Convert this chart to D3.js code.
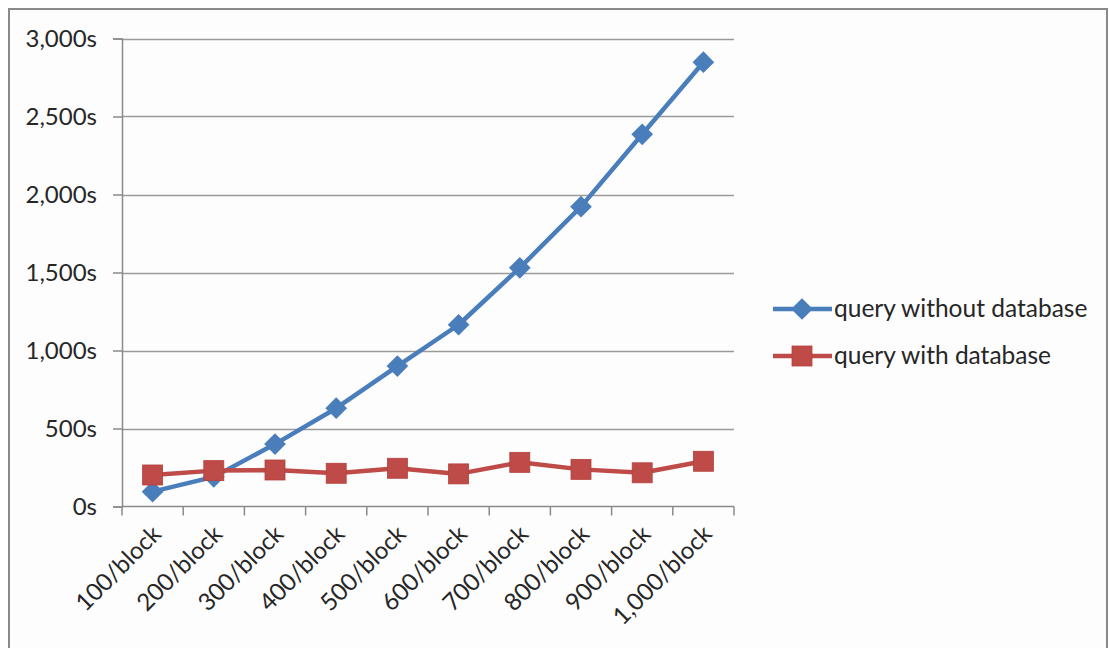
<!DOCTYPE html>
<html>
<head>
<meta charset="utf-8">
<script src="https://cdn.jsdelivr.net/npm/d3@7/dist/d3.min.js"></script>
<style>
  html, body { margin: 0; padding: 0; background: #ffffff; }
  svg { display: block; }
  text { font-family: Lato, "Open Sans", sans-serif; fill: #262626; }
</style>
</head>
<body>
<svg id="chart" width="1109" height="648"></svg>
<script>
// Query time per block size
const categories = ["100/block", "200/block", "300/block", "400/block", "500/block",
                    "600/block", "700/block", "800/block", "900/block", "1,000/block"];
const withoutDb = [95, 190, 400, 630, 900, 1165, 1530, 1922, 2386, 2848];
const withDb    = [202, 230, 234, 213, 245, 209, 283, 238, 216, 290];
const seriesNames = ["query without database", "query with database"];
const yTicks = [0, 500, 1000, 1500, 2000, 2500, 3000];

const svg = d3.select("#chart");
const W = 1109, H = 648;
const FONT = 24;

// chart frame
svg.append("rect").attr("x", 0).attr("y", 0).attr("width", W).attr("height", H).attr("fill", "#ffffff");
svg.append("rect").attr("x", 9).attr("y", 9).attr("width", W - 11).attr("height", H)
  .attr("fill", "#fdfdfd").attr("stroke", "#8a8a8a").attr("stroke-width", 2);

const plot = { left: 122, right: 734, top: 38.5, bottom: 506.5 };

const x = d3.scaleBand().domain(categories).range([plot.left, plot.right]).padding(0);
const y = d3.scaleLinear().domain([0, 3000]).range([plot.bottom, plot.top]);

// horizontal gridlines
svg.append("g").selectAll("line").data(yTicks.filter(d => d > 0)).join("line")
  .attr("x1", plot.left).attr("x2", plot.right)
  .attr("y1", d => Math.round(y(d)) + 0.5).attr("y2", d => Math.round(y(d)) + 0.5)
  .attr("stroke", "#9a9a9a").attr("stroke-width", 1.5);

// y axis
const yAxis = d3.axisLeft(y).tickValues(yTicks).tickSize(9).tickPadding(16)
  .tickFormat(d => d3.format(",")(d) + "s");
const gy = svg.append("g").attr("transform", `translate(${plot.left},0)`).call(yAxis);
gy.select(".domain").attr("stroke", "#8a8a8a").attr("stroke-width", 1.5);
gy.selectAll(".tick line").attr("stroke", "#8a8a8a").attr("stroke-width", 1.5);
gy.selectAll(".tick text").attr("font-size", FONT).attr("fill", "#262626")
  .attr("font-family", "Lato, 'Open Sans', sans-serif");

// x axis: ticks on category boundaries
const gx = svg.append("g").attr("transform", `translate(0,${plot.bottom})`);
gx.append("line").attr("x1", plot.left).attr("x2", plot.right).attr("y1", 0).attr("y2", 0)
  .attr("stroke", "#8a8a8a").attr("stroke-width", 1.5);
const bounds = categories.map(c => x(c)).concat([plot.right]);
gx.selectAll("line.tk").data(bounds).join("line").attr("class", "tk")
  .attr("x1", d => d).attr("x2", d => d).attr("y1", 0).attr("y2", 9)
  .attr("stroke", "#8a8a8a").attr("stroke-width", 1.5);
gx.selectAll("text").data(categories).join("text")
  .attr("transform", d => `translate(${x(d) + x.bandwidth() / 2 + 10},${29}) rotate(-45)`)
  .attr("text-anchor", "end")
  .attr("font-size", FONT)
  .text(d => d);

// series
const colors = ["#4a7ebb", "#be4b48"];
const series = [withoutDb, withDb];
const line = d3.line().x((d, i) => x(categories[i]) + x.bandwidth() / 2).y(d => y(d));

series.forEach((vals, s) => {
  svg.append("path").datum(vals).attr("d", line)
    .attr("fill", "none").attr("stroke", colors[s]).attr("stroke-width", 4.5)
    .attr("stroke-linejoin", "round");
});

function marker(g, s, cx, cy) {
  if (s === 0) {
    g.append("path").attr("d", d3.symbol(d3.symbolDiamond2, 300)())
      .attr("transform", `translate(${cx},${cy})`).attr("fill", colors[0]);
  } else {
    g.append("rect").attr("x", cx - 10).attr("y", cy - 10).attr("width", 20).attr("height", 20)
      .attr("fill", colors[1]).attr("stroke", "#b4403d").attr("stroke-width", 0.8);
  }
}

series.forEach((vals, s) => {
  const g = svg.append("g");
  vals.forEach((v, i) => marker(g, s, x(categories[i]) + x.bandwidth() / 2, y(v)));
});

// legend
const legendY = [309, 356];
seriesNames.forEach((name, s) => {
  const g = svg.append("g");
  g.append("line").attr("x1", 773).attr("x2", 832).attr("y1", legendY[s]).attr("y2", legendY[s])
    .attr("stroke", colors[s]).attr("stroke-width", 4.5);
  marker(g, s, 802, legendY[s]);
  g.append("text").attr("x", 834).attr("y", legendY[s] + 8).attr("font-size", 24.5).text(name);
});
</script>
</body>
</html>
